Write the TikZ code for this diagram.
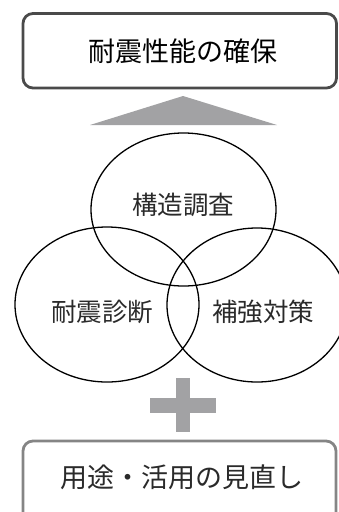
\documentclass[tikz,border=0pt]{standalone}
\usepackage{fontspec}
\newfontfamily\cjk{Noto Sans CJK JP}
\usetikzlibrary{shapes.geometric}
\definecolor{arrowgray}{HTML}{A2A2A4}
\definecolor{topframe}{HTML}{4A4A4A}
\definecolor{botframe}{HTML}{858585}
\definecolor{txt}{HTML}{2A2A2A}
\tikzset{
  frame/.style={rounded corners=10pt, line width=2.8pt},
  venn/.style={draw=black, line width=1.3pt, shape=ellipse, inner sep=0pt},
  lbl/.style={font=\cjk\fontsize{25.5pt}{28pt}\selectfont, text=txt, inner sep=0pt},
  biglbl/.style={font=\cjk\fontsize{27pt}{30pt}\selectfont, text=black, inner sep=0pt},
}
\begin{document}
\begin{tikzpicture}[x=1pt,y=-1pt]
\useasboundingbox (0,0) rectangle (338,512);
% top goal box
\draw[frame, draw=topframe] (23,13.5) rectangle (336.5,88);
\node[biglbl] (goal) at (183,51) {耐震性能の確保};
% triangle arrow
\coordinate (apex) at (183,96);
\coordinate (bl) at (90,125);
\coordinate (br) at (277,125);
\fill[arrowgray] (apex) -- (br) -- (bl) -- cycle;
% venn ellipses
\node[venn, minimum width=185pt, minimum height=153pt] (e1) at (183.5,209.5) {};
\node[venn, minimum width=184pt, minimum height=155pt] (e2) at (107,304.5) {};
\node[venn, minimum width=180pt, minimum height=154pt] (e3) at (257,305) {};
\node[lbl] (t1) at (183,205) {構造調査};
\node[lbl] (t2) at (102.5,312) {耐震診断};
\node[lbl] (t3) at (263,312) {補強対策};
% plus sign
\fill[arrowgray] (150,398) rectangle (216,413);
\fill[arrowgray] (176,378) rectangle (190,432);
% bottom box
\draw[frame, draw=botframe] (23,441) rectangle (336,525);
\node[font=\cjk\fontsize{27pt}{30pt}\selectfont, text=txt, inner sep=0pt] (use) at (182,477) {用途・活用の見直し};
\end{tikzpicture}
\end{document}
